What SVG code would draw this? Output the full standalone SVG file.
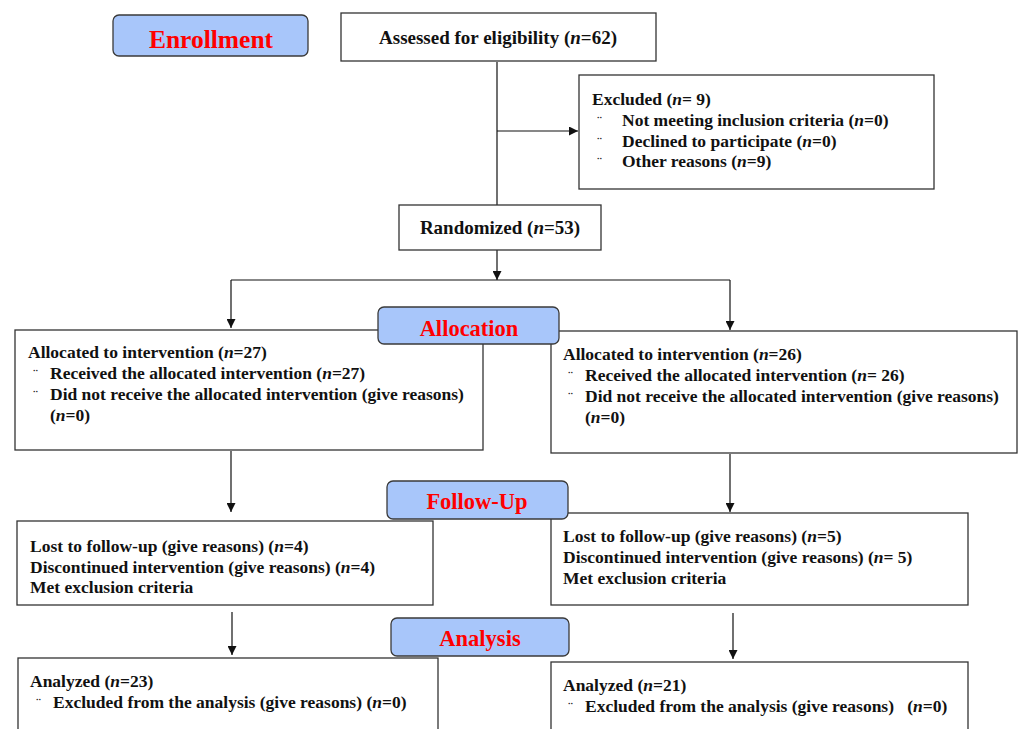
<svg xmlns="http://www.w3.org/2000/svg" width="1019" height="729" viewBox="0 0 1019 729">
<defs>
<marker id="ah" viewBox="0 0 10 10" refX="10" refY="5" markerWidth="9" markerHeight="9" markerUnits="userSpaceOnUse" orient="auto">
<path d="M0,0 L10,5 L0,10 z" fill="#111"/>
</marker>
</defs>
<style>
.box{fill:#fff;stroke:#333;stroke-width:1.3}
.lab{fill:#a8c6fa;stroke:#3a3a3a;stroke-width:1.3}
.t{font-family:"Liberation Serif","Times New Roman",serif;font-weight:bold;font-size:17.5px;fill:#111}
.big{font-size:19px}
.lt{font-family:"Liberation Serif","Times New Roman",serif;font-weight:bold;fill:#ff0000;text-anchor:middle}
.i{font-style:italic}
.b{font-family:"Liberation Serif",serif;font-size:15px;fill:#222}
.c{fill:none;stroke:#111;stroke-width:1.2}
</style>
<rect width="1019" height="729" fill="#fff"/>
<g id="connectors">
<path class="c" d="M497,62 V205"/>
<path class="c" d="M497,131 H578" marker-end="url(#ah)"/>
<path class="c" d="M497,250 V280" marker-end="url(#ah)"/>
<path class="c" d="M231,280 H730"/>
<path class="c" d="M231,280 V328" marker-end="url(#ah)"/>
<path class="c" d="M730,280 V330" marker-end="url(#ah)"/>
<path class="c" d="M231,451 V512" marker-end="url(#ah)"/>
<path class="c" d="M730,454 V512" marker-end="url(#ah)"/>
<path class="c" d="M232,612 V655" marker-end="url(#ah)"/>
<path class="c" d="M733,613 V659" marker-end="url(#ah)"/>
</g>
<g id="enrollment">
<rect class="lab" x="113" y="15" width="195" height="41" rx="6"/>
<text class="lt" x="211" y="48" font-size="25.5">Enrollment</text>
</g>
<g id="assessed">
<rect class="box" x="341" y="13" width="315" height="48"/>
<text class="t big" x="498" y="44" text-anchor="middle">Assessed for eligibility (<tspan class="i">n</tspan>=62)</text>
</g>
<g id="excluded">
<rect class="box" x="579" y="75" width="355" height="114"/>
<text class="t" x="592" y="105">Excluded (<tspan class="i">n</tspan>= 9)</text>
<text class="b" x="597" y="126">¨</text>
<text class="t" x="622" y="126">Not meeting inclusion criteria (<tspan class="i">n</tspan>=0)</text>
<text class="b" x="597" y="147">¨</text>
<text class="t" x="622" y="147">Declined to participate (<tspan class="i">n</tspan>=0)</text>
<text class="b" x="597" y="167">¨</text>
<text class="t" x="622" y="167">Other reasons (<tspan class="i">n</tspan>=9)</text>
</g>
<g id="randomized">
<rect class="box" x="399" y="205" width="202" height="45"/>
<text class="t big" x="500" y="234" text-anchor="middle">Randomized (<tspan class="i">n</tspan>=53)</text>
</g>
<g id="alloc-left">
<rect class="box" x="15" y="330" width="468" height="120"/>
<text class="t" x="28" y="358">Allocated to intervention (<tspan class="i">n</tspan>=27)</text>
<text class="b" x="33" y="379">¨</text>
<text class="t" x="50" y="379">Received the allocated intervention (<tspan class="i">n</tspan>=27)</text>
<text class="b" x="33" y="400">¨</text>
<text class="t" x="50" y="400">Did not receive the allocated intervention (give reasons)</text>
<text class="t" x="50" y="421">(<tspan class="i">n</tspan>=0)</text>
</g>
<g id="alloc-right">
<rect class="box" x="551" y="331" width="466" height="122"/>
<text class="t" x="563" y="360">Allocated to intervention (<tspan class="i">n</tspan>=26)</text>
<text class="b" x="568" y="381">¨</text>
<text class="t" x="585" y="381">Received the allocated intervention (<tspan class="i">n</tspan>= 26)</text>
<text class="b" x="568" y="402">¨</text>
<text class="t" x="585" y="402">Did not receive the allocated intervention (give reasons)</text>
<text class="t" x="585" y="423">(<tspan class="i">n</tspan>=0)</text>
</g>
<g id="allocation">
<rect class="lab" x="378" y="307" width="181" height="37" rx="6"/>
<text class="lt" x="469" y="336" font-size="22.5">Allocation</text>
</g>
<g id="follow-left">
<rect class="box" x="17" y="521" width="416" height="84"/>
<text class="t" x="30" y="552">Lost to follow-up (give reasons) (<tspan class="i">n</tspan>=4)</text>
<text class="t" x="30" y="573">Discontinued intervention (give reasons) (<tspan class="i">n</tspan>=4)</text>
<text class="t" x="30" y="593">Met exclusion criteria</text>
</g>
<g id="follow-right">
<rect class="box" x="551" y="513" width="417" height="92"/>
<text class="t" x="563" y="542">Lost to follow-up (give reasons) (<tspan class="i">n</tspan>=5)</text>
<text class="t" x="563" y="563">Discontinued intervention (give reasons) (<tspan class="i">n</tspan>= 5)</text>
<text class="t" x="563" y="584">Met exclusion criteria</text>
</g>
<g id="followup">
<rect class="lab" x="387" y="481" width="181" height="38" rx="6"/>
<text class="lt" x="477" y="509" font-size="22.5">Follow-Up</text>
</g>
<g id="analysis-left">
<rect class="box" x="18" y="658" width="420" height="80"/>
<text class="t" x="30" y="687">Analyzed (<tspan class="i">n</tspan>=23)</text>
<text class="b" x="36" y="708">¨</text>
<text class="t" x="53" y="708">Excluded from the analysis (give reasons) (<tspan class="i">n</tspan>=0)</text>
</g>
<g id="analysis-right">
<rect class="box" x="551" y="662" width="417" height="80"/>
<text class="t" x="563" y="691">Analyzed (<tspan class="i">n</tspan>=21)</text>
<text class="b" x="568" y="712">¨</text>
<text class="t" x="585" y="712" xml:space="preserve">Excluded from the analysis (give reasons)   (<tspan class="i">n</tspan>=0)</text>
</g>
<g id="analysis">
<rect class="lab" x="391" y="618" width="178" height="38" rx="6"/>
<text class="lt" x="480" y="646" font-size="22.5">Analysis</text>
</g>
</svg>
